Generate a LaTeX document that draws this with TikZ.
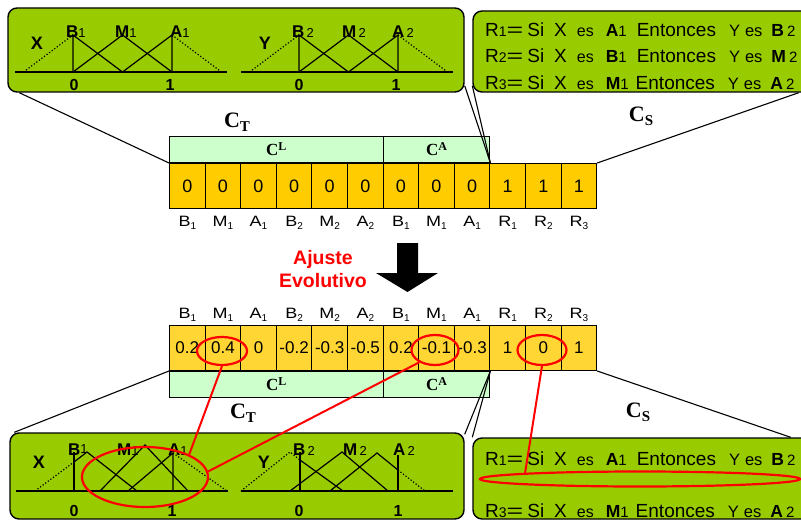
\documentclass[tikz,border=0pt]{standalone}
\usepackage{fontspec}
\setmainfont{Liberation Sans}
\newfontfamily\tnr{Liberation Serif}
\usetikzlibrary{shapes.geometric}

\definecolor{panelgreen}{HTML}{99CC00}
\definecolor{cellyellow}{HTML}{FFCC00}
\definecolor{cellyellowb}{HTML}{FFD633}
\definecolor{barGreen}{HTML}{CCFFCC}

\newcommand{\fs}[1]{\fontsize{#1}{#1}\selectfont}
\newcommand{\cLbl}[1]{{\tnr\bfseries\fs{17}C\raisebox{5pt}{\fs{12}#1}}}
\newcommand{\cSub}[1]{{\tnr\bfseries\fs{22}C\raisebox{-4pt}{\fs{15}#1}}}
\newcommand{\mflab}[2]{{\fs{17}\bfseries #1}{\fs{13}#2}}
\newcommand{\cellab}[2]{\scalebox{1.2}[1]{\fs{15}#1}\raisebox{-3pt}{\fs{10}#2}}
\newcommand{\rulerow}[6]{\fs{19}R{\fs{14}#1}\scalebox{1.5}[1]{=}\hspace{4pt}Si\hspace{10pt}X\hspace{10pt}{\fs{16}es}\hspace{12pt}{\fs{17.5}\bfseries #2}{\fs{15}#3}\hspace{#4}Entonces\hspace{13pt}{\fs{16.5}Y}\hspace{5pt}{\fs{16.5}es}\hspace{9pt}{\fs{17.5}\bfseries #5}\hspace{3pt}{\fs{15}#6}}

\begin{document}
\begin{tikzpicture}[x=1pt,y=-1pt,
  panel/.style={draw, line width=1.4pt, rounded corners=9pt, fill=panelgreen, inner sep=0},
  cell/.style={draw, line width=1pt, minimum width=35.6pt, minimum height=45pt, inner sep=0, anchor=north west},
  bar/.style={draw, line width=1pt, fill=barGreen, inner sep=0, minimum height=26pt},
  conn/.style={line width=1.1pt},
  redc/.style={draw=red, line width=2.2pt, ellipse, inner sep=0},
  redl/.style={red, line width=2pt},
  mf/.style={line width=1.2pt},
  mfd/.style={line width=1.2pt, dotted},
  lab/.style={inner sep=0, anchor=base west},
  num/.style={inner sep=0, font=\fs{16}\bfseries},
  axl/.style={inner sep=0, font=\fs{18}\bfseries},
]
\clip (0,0) rectangle (801,527);

% panels
\node[panel, minimum width=456pt, minimum height=84pt] (pTL) at (236,50) {};
\node[panel, minimum width=344pt, minimum height=81pt] (pTR) at (645,51.5) {};
\node[panel, minimum width=454pt, minimum height=86pt] (pBL) at (237,476) {};
\node[panel, minimum width=344pt, minimum height=81pt] (pBR) at (645,478.5) {};

% top membership functions
\draw[mf] (15,72) -- (227,72);
\draw[mfd] (23.5,72) -- (73,35);
\draw[mf] (73,72) -- (73,35) -- (122.5,72);
\draw[mf] (73,72) -- (122.5,35) -- (172,72);
\draw[mf] (122.5,72) -- (172,35) -- (172,72);
\draw[mfd] (172,35) -- (221.5,72);
\node[axl] (xT) at (37,43) {X};
\node[lab] (lb1T) at (66,38) {\mflab{B}{1}};
\node[lab] (lm1T) at (115,38) {\mflab{M}{1}};
\node[lab] (la1T) at (170,38) {\mflab{A}{1}};
\node[num] (z1T) at (74,85) {0};
\node[num] (o1T) at (170,85) {1};

\draw[mf] (241,72) -- (453,72);
\draw[mfd] (249.5,72) -- (299,35);
\draw[mf] (299,72) -- (299,35) -- (348.5,72);
\draw[mf] (299,72) -- (348.5,35) -- (398,72);
\draw[mf] (348.5,72) -- (398,35) -- (398,72);
\draw[mfd] (398,35) -- (447.5,72);
\node[axl] (yT) at (265,43) {Y};
\node[lab] (lb2T) at (292,38) {\mflab{B}{\,2}};
\node[lab] (lm2T) at (342,38) {\mflab{M}{\,2}};
\node[lab] (la2T) at (392,38) {\mflab{A}{\,2}};
\node[num] (z2T) at (299,85) {0};
\node[num] (o2T) at (396,85) {1};

% top rules
\node[lab] (r1T) at (485,37) {\rulerow{1}{A}{1}{10pt}{B}{2}};
\node[lab] (r2T) at (485,63) {\rulerow{2}{B}{1}{10pt}{M}{2}};
\node[lab] (r3T) at (485,90) {\rulerow{3}{M}{1}{7pt}{A}{2}};

% top cells
\foreach \v [count=\i] in {0,0,0,0,0,0,0,0,0,1,1,1}
  \node[cell, fill=cellyellow, font=\fs{18}] (t\i) at ({169+(\i-1)*35.6},163) {\v};
% bottom cells
\foreach \v [count=\i] in {0.2,0.4,0,-0.2,-0.3,-0.5,0.2,-0.1,-0.3,1,0,1}
  \node[cell, fill=cellyellowb, font=\fs{17}] (b\i) at ({169+(\i-1)*35.6},325) {\v};
% labels
\foreach \l/\s [count=\i] in {B/1,M/1,A/1,B/2,M/2,A/2,B/1,M/1,A/1,R/1,R/2,R/3}{
  \node[anchor=base, inner sep=0] (tl\i) at ([yshift=-17pt]t\i.south) {\cellab{\l}{\s}};
  \node[anchor=base, inner sep=0] (bl\i) at ([yshift=7pt]b\i.north) {\cellab{\l}{\s}};
}

% green bars
\node[bar, minimum width=213.6pt, anchor=south west] (clT) at (t1.north west) {\cLbl{L}};
\node[bar, minimum width=106.8pt, anchor=south west] (caT) at (t7.north west) {\cLbl{A}};
\node[bar, minimum width=213.6pt, anchor=north west] (clB) at (b1.south west) {\cLbl{L}};
\node[bar, minimum width=106.8pt, anchor=north west] (caB) at (b7.south west) {\cLbl{A}};

% C labels
\node[inner sep=0] (ctT) at (237,122) {\cSub{T}};
\node[inner sep=0] (csT) at (641,116) {\cSub{S}};
\node[inner sep=0] (ctB) at (243,413) {\cSub{T}};
\node[inner sep=0] (csB) at (638,412) {\cSub{S}};

% connectors
\draw[conn] ([xshift=12pt]pTL.south west) -- (t1.north west);
\draw[conn] ([yshift=7pt]pTL.south east) -- (t9.north east);
\draw[conn] ([yshift=7pt]pTR.south west) -- (t9.north east);
\draw[conn] ([xshift=-19pt]pTR.south east) -- (t12.north east);
\draw[conn] (b1.south west) -- ([xshift=5pt]pBL.north west);
\draw[conn] (b9.south east) -- ([yshift=-2pt]pBL.north east);
\draw[conn] (b9.south east) -- (pBR.north west);
\draw[conn] (b12.south east) -- ([xshift=-27pt]pBR.north east);

% arrow and label
\fill (397,243) -- (418,243) -- (418,273) -- (438,273) -- (407.5,292) -- (376,273) -- (397,273) -- cycle;
\node[align=center, text=red, font=\bfseries\fontsize{19.5}{23}\selectfont, inner sep=0] (aj) at (323,269) {Ajuste\\Evolutivo};

% bottom membership functions
\draw[mf] (16,491) -- (228,491);
\draw[mfd] (35,491) -- (74,462);
\draw[mf] (74,491) -- (74,452);
\draw[mf] (74,462) -- (87,452) -- (137,491);
\draw[mf] (100,491) -- (145,445) -- (188,491);
\draw[mf] (128,491) -- (173,453) -- (173,491);
\draw[mfd] (173,453) -- (227,491);
\node[axl] (xB) at (39,462) {X};
\node[lab] (lb1B) at (68,455) {\mflab{B}{\raisebox{2pt}{1}}};
\node[lab] (lm1B) at (117,455) {\mflab{M}{1}};
\node[lab] (la1B) at (168,455) {\mflab{A}{1}};
\node[num] (z1B) at (74,511) {0};
\node[num] (o1B) at (172,511) {1};

\draw[mf] (241,491) -- (453,491);
\draw[mfd] (241,491) -- (290,452) -- (300,460);
\draw[mf] (300,452) -- (300,491);
\draw[mf] (300,460) -- (343,491);
\draw[mf] (290,491) -- (342,452) -- (388,491);
\draw[mf] (330,491) -- (377,453) -- (398,470);
\draw[mf] (398,455) -- (398,491);
\draw[mfd] (398,470) -- (425,491);
\node[axl] (yB) at (264,462) {Y};
\node[lab] (lb2B) at (293,455) {\mflab{B}{\,2}};
\node[lab] (lm2B) at (343,455) {\mflab{M}{\,2}};
\node[lab] (la2B) at (393,455) {\mflab{A}{\,2}};
\node[num] (z2B) at (299,511) {0};
\node[num] (o2B) at (398,511) {1};

% bottom rules
\node[lab] (r1B) at (485,465) {\rulerow{1}{A}{1}{10pt}{B}{2}};
\node[lab] (r3B) at (485,517) {\rulerow{3}{M}{1}{7pt}{A}{2}};

% red ellipses
\node[redc, minimum width=50pt, minimum height=28pt] (e1) at (222,351) {};
\node[redc, minimum width=47pt, minimum height=30pt] (e2) at (435,350) {};
\node[redc, minimum width=49pt, minimum height=30pt] (e3) at (542,350) {};
\node[redc, minimum width=126pt, minimum height=60pt] (eBL) at (145,477) {};
\node[redc, minimum width=320pt, minimum height=15pt] (eBR) at (640,479) {};

\draw[redl] (e1.south) -- (eBL.27);
\draw[redl] (e2.218) -- (eBL.5);
\draw[redl] (e3.south) -- (eBR.177);
\end{tikzpicture}
\end{document}
